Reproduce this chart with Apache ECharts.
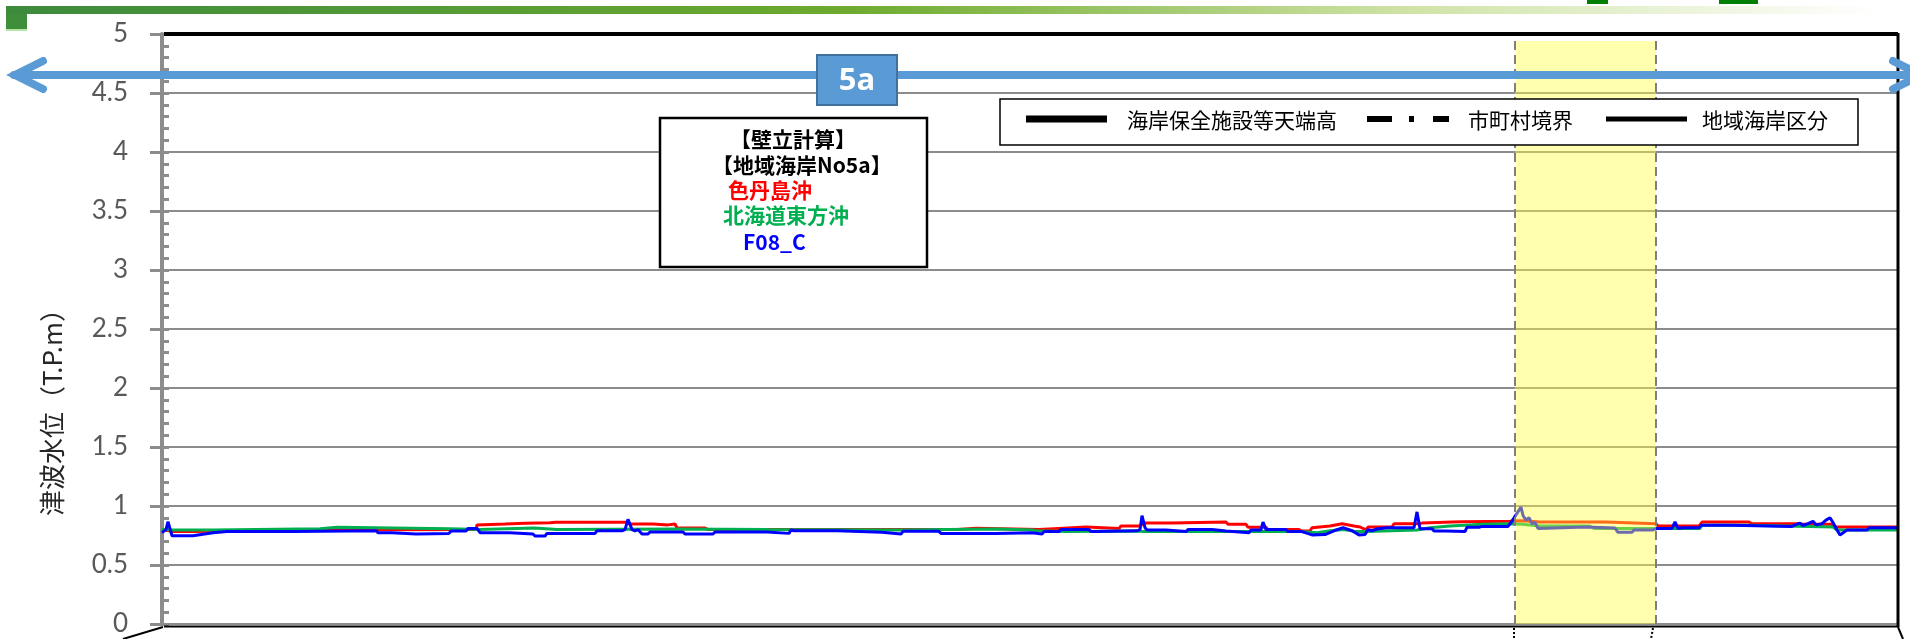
<!DOCTYPE html>
<html>
<head>
<meta charset="utf-8">
<script src="https://cdn.jsdelivr.net/npm/echarts@6/dist/echarts.min.js"></script>
<style>html,body{margin:0;padding:0;background:#fff;}#c{width:1910px;height:639px;}</style>
</head>
<body>
<div id="c"></div>
<script>
// ---- data (x = position along coast, y = tsunami level T.P.m) ----
const yTicks = [0, 0.5, 1, 1.5, 2, 2.5, 3, 3.5, 4, 4.5, 5];
const xRange = [0, 1736];
const band = [1353, 1494];
const seriesNames = ['色丹島沖', '北海道東方沖', 'F08_C'];
const legendNames = ['海岸保全施設等天端高', '市町村境界', '地域海岸区分'];
const noteLines = ['【壁立計算】', '【地域海岸No5a】', '色丹島沖', '北海道東方沖', 'F08_C'];
const regionLabel = '5a';
const yTitle = '津波水位（T.P.m）';

const red = [[0,0.80],[11,0.783],[31,0.783],[32,0.797],[131,0.797],[132,0.80],[314,0.80],[315,0.84],[316,0.847],[343,0.847],[344,0.853],[363,0.853],[364,0.859],[388,0.859],[390,0.865],[394,0.862],[464,0.862],[468,0.847],[491,0.847],[492,0.84],[506,0.84],[508,0.847],[513,0.847],[515,0.814],[543,0.814],[546,0.80],[796,0.80],[797,0.812],[814,0.812],[815,0.80],[877,0.80],[879,0.81],[897,0.81],[899,0.822],[924,0.822],[926,0.81],[957,0.81],[959,0.83],[978,0.83],[982,0.855],[1010,0.855],[1012,0.864],[1064,0.864],[1066,0.845],[1084,0.845],[1086,0.82],[1104,0.82],[1106,0.80],[1137,0.80],[1140,0.788],[1148,0.788],[1150,0.816],[1168,0.83],[1180,0.85],[1192,0.83],[1198,0.822],[1204,0.797],[1206,0.822],[1230,0.822],[1232,0.85],[1256,0.85],[1260,0.855],[1290,0.864],[1300,0.867],[1348,0.87],[1359,0.875],[1368,0.87],[1378,0.864],[1444,0.864],[1446,0.85],[1494,0.85],[1496,0.83],[1537,0.83],[1540,0.864],[1587,0.864],[1590,0.85],[1637,0.85],[1640,0.845],[1670,0.845],[1673,0.822],[1736,0.822]];

const green = [[0,0.80],[11,0.797],[51,0.797],[52,0.808],[158,0.808],[159,0.819],[175,0.819],[176,0.808],[288,0.808],[289,0.80],[318,0.80],[320,0.813],[372,0.813],[373,0.80],[395,0.80],[396,0.806],[514,0.806],[515,0.80],[606,0.80],[607,0.797],[736,0.797],[737,0.805],[835,0.805],[836,0.797],[871,0.797],[874,0.79],[905,0.783],[978,0.788],[981,0.783],[1138,0.783],[1140,0.774],[1155,0.774],[1157,0.783],[1168,0.79],[1181,0.80],[1190,0.79],[1193,0.783],[1204,0.783],[1206,0.797],[1255,0.797],[1268,0.815],[1288,0.83],[1321,0.845],[1348,0.85],[1360,0.845],[1378,0.83],[1428,0.83],[1432,0.81],[1538,0.81],[1540,0.836],[1588,0.836],[1590,0.822],[1671,0.822],[1675,0.797],[1736,0.797]];

const blue = [[0,0.774],[4,0.80],[6,0.867],[10,0.748],[31,0.748],[51,0.774],[65,0.783],[131,0.783],[133,0.791],[214,0.791],[216,0.774],[230,0.774],[232,0.763],[254,0.763],[256,0.768],[287,0.768],[289,0.788],[304,0.788],[306,0.81],[315,0.81],[318,0.774],[348,0.774],[350,0.763],[371,0.763],[373,0.746],[383,0.746],[385,0.768],[433,0.768],[435,0.79],[460,0.79],[463,0.80],[466,0.887],[470,0.80],[473,0.79],[476,0.80],[480,0.763],[486,0.763],[488,0.78],[521,0.78],[523,0.763],[551,0.763],[553,0.78],[605,0.78],[607,0.768],[627,0.768],[629,0.797],[632,0.79],[675,0.79],[677,0.777],[720,0.777],[722,0.763],[739,0.763],[741,0.785],[777,0.785],[779,0.768],[834,0.768],[836,0.774],[870,0.774],[872,0.763],[880,0.763],[882,0.783],[897,0.783],[899,0.80],[927,0.80],[929,0.783],[934,0.783],[936,0.79],[975,0.79],[978,0.80],[980,0.918],[983,0.816],[985,0.797],[1004,0.797],[1006,0.783],[1024,0.783],[1026,0.80],[1050,0.80],[1052,0.788],[1064,0.788],[1066,0.774],[1087,0.774],[1089,0.797],[1099,0.797],[1101,0.864],[1104,0.80],[1124,0.80],[1126,0.783],[1140,0.783],[1150,0.755],[1163,0.758],[1172,0.79],[1181,0.816],[1190,0.79],[1197,0.755],[1203,0.758],[1206,0.80],[1210,0.79],[1215,0.805],[1225,0.816],[1252,0.816],[1255,0.95],[1258,0.808],[1270,0.808],[1272,0.788],[1284,0.788],[1286,0.783],[1303,0.783],[1305,0.82],[1317,0.82],[1320,0.827],[1346,0.827],[1349,0.86],[1359,0.99],[1361,0.92],[1364,0.88],[1367,0.90],[1370,0.85],[1373,0.86],[1376,0.81],[1378,0.822],[1424,0.822],[1426,0.813],[1453,0.813],[1456,0.777],[1470,0.777],[1472,0.797],[1491,0.797],[1495,0.81],[1510,0.81],[1513,0.865],[1516,0.81],[1521,0.816],[1537,0.816],[1539,0.836],[1570,0.836],[1572,0.827],[1630,0.827],[1633,0.84],[1638,0.855],[1641,0.835],[1646,0.85],[1651,0.87],[1654,0.84],[1660,0.85],[1664,0.88],[1668,0.90],[1671,0.86],[1675,0.797],[1678,0.755],[1685,0.797],[1705,0.797],[1707,0.816],[1736,0.816]];

// ---- chart ----
const chart = echarts.init(document.getElementById('c'), null, {renderer: 'canvas'});
const G = {left: 162, top: 34, right: 12, bottom: 15};
const cjk = '"Noto Sans CJK JP", sans-serif';
const colors = ['#FF0000', '#00B050', '#0000FF'];
const gray = '#8C8C8C';

const lineSeries = [red, green, blue].map((d, i) => ({
  name: seriesNames[i], type: 'line', data: d, symbol: 'none', z: 3 + i,
  lineStyle: {color: colors[i], width: 3}, animation: false
}));

const noteX = [730, 712, 728, 723, 743];
const noteY = [139, 165, 190, 215, 242];
const noteColor = ['#000', '#000', '#FF0000', '#00B050', '#0000FF'];

const graphics = [
  // top decorative bar
  {type: 'rect', shape: {x: 6, y: 6, width: 1870, height: 8}, style: {fill: new echarts.graphic.LinearGradient(0,0,1,0,[{offset:0,color:'#3C8A3C'},{offset:0.45,color:'#6DAA2E'},{offset:0.75,color:'#CFE3A6'},{offset:1,color:'#FFFFFF'}])}, z: 50},
  {type: 'rect', shape: {x: 6, y: 14, width: 21, height: 15}, style: {fill: '#3E8E3A'}, z: 50},
  {type: 'rect', shape: {x: 6, y: 29, width: 21, height: 2}, style: {fill: '#B5E6A5'}, z: 50},
  {type: 'rect', shape: {x: 1587, y: 0, width: 21, height: 4}, style: {fill: '#007F00'}, z: 50},
  {type: 'rect', shape: {x: 1719, y: 0, width: 39, height: 4}, style: {fill: '#007F00'}, z: 50},
  // plot frame
  {type: 'line', shape: {x1: 164, y1: 34, x2: 1898, y2: 34}, style: {stroke: '#000', lineWidth: 4}, z: 40},
  {type: 'line', shape: {x1: 1898, y1: 33, x2: 1898, y2: 627}, style: {stroke: '#000', lineWidth: 3}, z: 40},
  {type: 'line', shape: {x1: 164, y1: 626.5, x2: 1898, y2: 626.5}, style: {stroke: '#000', lineWidth: 2}, z: 40},
  // cropped leader lines below plot
  {type: 'line', shape: {x1: 123, y1: 639, x2: 163, y2: 627}, style: {stroke: '#000', lineWidth: 2}, z: 40},
  {type: 'line', shape: {x1: 1898, y1: 627, x2: 1903, y2: 639}, style: {stroke: '#000', lineWidth: 2}, z: 40},
  {type: 'line', shape: {x1: 1514, y1: 628, x2: 1514, y2: 639}, style: {stroke: '#000', lineWidth: 2, lineDash: [2, 2]}, z: 40},
  {type: 'line', shape: {x1: 1653, y1: 628, x2: 1651, y2: 639}, style: {stroke: '#000', lineWidth: 2, lineDash: [2, 2]}, z: 40},
  // blue double arrow
  {type: 'polyline', shape: {points: [[14, 75], [1922, 75]]}, style: {stroke: '#5B9BD5', lineWidth: 8, lineCap: 'round'}, z: 60},
  {type: 'polyline', shape: {points: [[43, 61], [15, 75], [43, 89]]}, style: {stroke: '#5B9BD5', lineWidth: 8, lineCap: 'round', lineJoin: 'miter', fill: null}, z: 60},
  {type: 'polyline', shape: {points: [[1893, 61], [1921, 75], [1893, 89]]}, style: {stroke: '#5B9BD5', lineWidth: 8, lineCap: 'round', lineJoin: 'miter', fill: null}, z: 60},
  {type: 'rect', shape: {x: 817, y: 55, width: 80, height: 50}, style: {fill: '#5B9BD5', stroke: '#41719C', lineWidth: 2}, z: 61},
  {type: 'text', x: 857, y: 81, style: {text: regionLabel, fill: '#FFFFFF', font: 'bold 31px "Open Sans", sans-serif', align: 'center', verticalAlign: 'middle'}, z: 62},
  // note box
  {type: 'rect', shape: {x: 660, y: 118, width: 267, height: 149}, style: {fill: '#FFFFFF', stroke: '#000', lineWidth: 2.5}, z: 70},
  ...noteLines.map((t, i) => ({type: 'text', x: noteX[i], y: noteY[i], style: {text: t, fill: noteColor[i], font: 'bold 21px ' + cjk, align: 'left', verticalAlign: 'middle'}, z: 71})),
  // legend box
  {type: 'rect', shape: {x: 1000, y: 99, width: 858, height: 46}, style: {fill: '#FFFFFF', stroke: '#000', lineWidth: 1.5}, z: 70},
  {type: 'line', shape: {x1: 1026, y1: 119, x2: 1107, y2: 119}, style: {stroke: '#000', lineWidth: 7}, z: 71},
  {type: 'text', x: 1127, y: 120, style: {text: legendNames[0], fill: '#000', font: '21px ' + cjk, align: 'left', verticalAlign: 'middle'}, z: 71},
  {type: 'line', shape: {x1: 1367, y1: 119, x2: 1449, y2: 119}, style: {stroke: '#000', lineWidth: 6, lineDash: [25, 17, 5, 19]}, z: 71},
  {type: 'text', x: 1468, y: 120, style: {text: legendNames[1], fill: '#000', font: '21px ' + cjk, align: 'left', verticalAlign: 'middle'}, z: 71},
  {type: 'line', shape: {x1: 1606, y1: 119, x2: 1687, y2: 119}, style: {stroke: '#000', lineWidth: 5}, z: 71},
  {type: 'text', x: 1702, y: 120, style: {text: legendNames[2], fill: '#000', font: '21px ' + cjk, align: 'left', verticalAlign: 'middle'}, z: 71},
  // y axis title
  {type: 'text', x: 52, y: 406, rotation: Math.PI / 2, style: {text: yTitle, fill: '#262626', font: '26px ' + cjk, align: 'center', verticalAlign: 'middle'}, z: 71}
];

chart.setOption({
  animation: false,
  backgroundColor: '#FFFFFF',
  grid: G,
  xAxis: {
    type: 'value', min: xRange[0], max: xRange[1],
    axisLine: {show: false}, axisTick: {show: false}, axisLabel: {show: false}, splitLine: {show: false}
  },
  yAxis: [{
    type: 'value', position: 'left', min: yTicks[0], max: yTicks[yTicks.length - 1], interval: 0.5,
    axisLine: {show: true, lineStyle: {color: gray, width: 4}},
    axisTick: {show: true, inside: false, length: 12, lineStyle: {color: gray, width: 3}},
    axisLabel: {color: '#595959', fontSize: 26, fontFamily: 'Lato, "Open Sans", sans-serif', margin: 34,
      formatter: v => String(yTicks.find(t => Math.abs(t - v) < 1e-6) ?? v)},
    splitLine: {show: true, lineStyle: {color: gray, width: 2}}
  }, {
    type: 'value', position: 'left', min: 0, max: 5, interval: 0.1,
    axisLine: {show: false},
    axisTick: {show: true, inside: true, length: 7, lineStyle: {color: gray, width: 3}},
    axisLabel: {show: false}, splitLine: {show: false}
  }],
  series: [
    ...lineSeries,
    {
      type: 'line', data: [], z: 10, silent: true,
      markArea: {
        silent: true, z: 10,
        itemStyle: {color: 'rgba(255,255,60,0.42)'},
        data: [[{xAxis: band[0], yAxis: 0}, {xAxis: band[1], yAxis: 4.94}]]
      },
      markLine: {
        silent: true, symbol: 'none', z: 11, label: {show: false},
        lineStyle: {color: '#7F7F7F', width: 2, type: [9, 5]},
        data: [{xAxis: band[0]}, {xAxis: band[1]}]
      }
    }
  ],
  graphic: graphics
});
</script>
</body>
</html>
